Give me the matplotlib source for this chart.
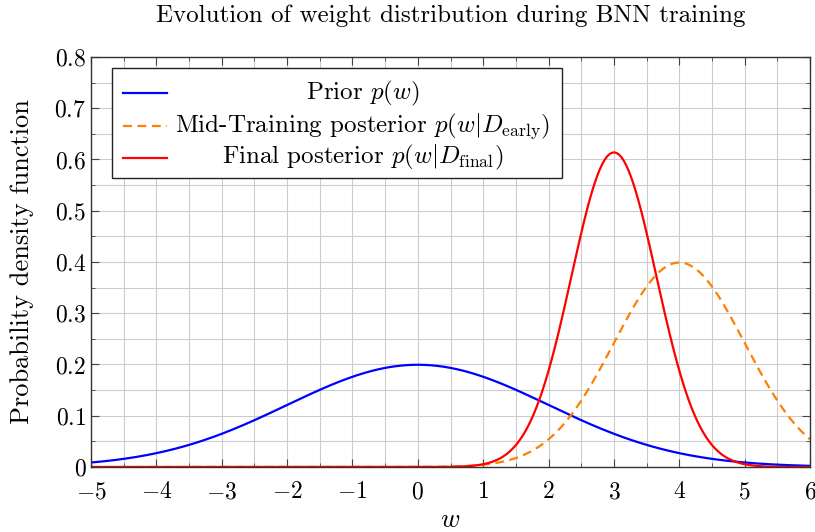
import matplotlib
matplotlib.use("Agg")
import matplotlib.pyplot as plt
import numpy as np
from matplotlib.ticker import MultipleLocator
from matplotlib.patches import Rectangle

# Gaussian curves (mean, std)
labels = [r"Prior $p(w)$",
          r"Mid-Training posterior $p(w|D_{\mathrm{early}})$",
          r"Final posterior $p(w|D_{\mathrm{final}})$"]
means = [0.0, 4.0, 3.0]
sigmas = [2.0, 1.0, 0.65]
colors = ["#0000ff", "#ff8000", "#ff0000"]
styles = ["-", "--", "-"]

X_MIN, X_MAX = -5, 6
Y_MIN, Y_MAX = 0, 0.8

plt.rcParams["font.family"] = "cmr10"
plt.rcParams["mathtext.fontset"] = "cm"
plt.rcParams["axes.formatter.use_mathtext"] = True
plt.rcParams["font.size"] = 17

fig = plt.figure(figsize=(8.15, 5.32), dpi=100)
ax = fig.add_axes([0.1117, 0.1222, 0.8822, 0.7707])

w = np.linspace(X_MIN, X_MAX, 600)
for mu, s, c, ls in zip(means, sigmas, colors, styles):
    pdf = np.exp(-0.5 * ((w - mu) / s) ** 2) / (s * np.sqrt(2 * np.pi))
    ax.plot(w, pdf, color=c, linestyle=ls, linewidth=1.6, dashes=(4, 2.5) if ls == "--" else (None, None))

ax.set_xlim(X_MIN, X_MAX)
ax.set_ylim(Y_MIN, Y_MAX)
ax.xaxis.set_major_locator(MultipleLocator(1))
ax.xaxis.set_minor_locator(MultipleLocator(0.5))
ax.yaxis.set_major_locator(MultipleLocator(0.1))
ax.yaxis.set_minor_locator(MultipleLocator(0.05))
ax.yaxis.set_major_formatter(lambda v, p: "0" if abs(v) < 1e-9 else "$%.1f$" % v)
ax.grid(True, which="both", color="#cccccc", linewidth=0.8)
ax.set_axisbelow(True)
ax.tick_params(which="both", direction="in", top=True, right=True, color="#444444")
ax.tick_params(which="major", length=6)
ax.tick_params(which="minor", length=3)
ax.tick_params(axis="x", pad=10)
for sp in ax.spines.values():
    sp.set_color("#333333")
    sp.set_linewidth(1.0)

ax.set_title("Evolution of weight distribution during BNN training", fontsize=18, pad=25)
ax.set_xlabel(r"$w$", fontsize=19, labelpad=4)
ax.set_ylabel("Probability density function", fontsize=19, labelpad=15)

# legend drawn pgfplots-style: centred entries in a framed box
ax.add_patch(Rectangle((0.029, 0.705), 0.626, 0.268, transform=ax.transAxes,
                       facecolor="white", edgecolor="#222222", linewidth=1.0, zorder=5))
rows = [0.912, 0.832, 0.754]
for lab, c, ls, yy in zip(labels, colors, styles, rows):
    ax.plot([0.0445, 0.1057], [yy, yy], transform=ax.transAxes, color=c, linestyle=ls,
            linewidth=1.6, dashes=(4, 2.5) if ls == "--" else (None, None), zorder=6)
    ax.text(0.378, yy, lab, transform=ax.transAxes, ha="center", va="center",
            fontsize=18, zorder=6)

plt.savefig("out.png", dpi=100)
